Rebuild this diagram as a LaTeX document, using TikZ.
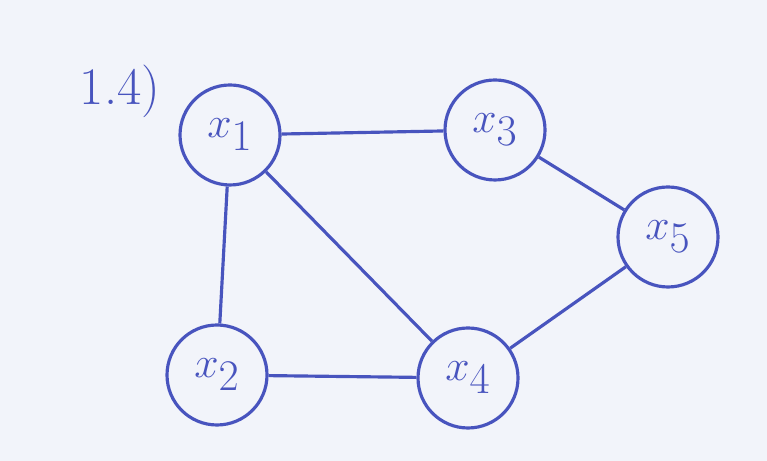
\documentclass[tikz,border=0pt]{standalone}
\usepackage{tikz}

\definecolor{paper}{RGB}{242,244,250}
\definecolor{pen}{RGB}{72,84,190}

\tikzset{
    vertex/.style={circle, draw=pen, line width=1.8pt, minimum size=2cm, inner sep=0pt,
        text=pen, font=\fontsize{34}{34}\selectfont},
    edge/.style={draw=pen, line width=1.8pt}
}

\begin{document}
\begin{tikzpicture}
            % Paper
            \fill[paper] (0,0) rectangle (15.34,9.22);
            \useasboundingbox (0,0) rectangle (15.34,9.22);
            
            % Label
            \node[text=pen, font=\fontsize{30}{30}\selectfont] (lbl) at (2.4,7.4) {1.4)};
            
            % Vertices
            \node[vertex] (x1) at (4.6,6.52) {$x_1$};
            \node[vertex] (x3) at (9.9,6.62) {$x_3$};
            \node[vertex] (x5) at (13.36,4.48) {$x_5$};
            \node[vertex] (x2) at (4.34,1.72) {$x_2$};
            \node[vertex] (x4) at (9.36,1.66) {$x_4$};
            
            % Edges
            \foreach \a/\b in {x1/x3, x1/x2, x1/x4, x3/x5, x5/x4, x2/x4} {
                \draw[edge] (\a) -- (\b);
            }
        \end{tikzpicture}
\end{document}
